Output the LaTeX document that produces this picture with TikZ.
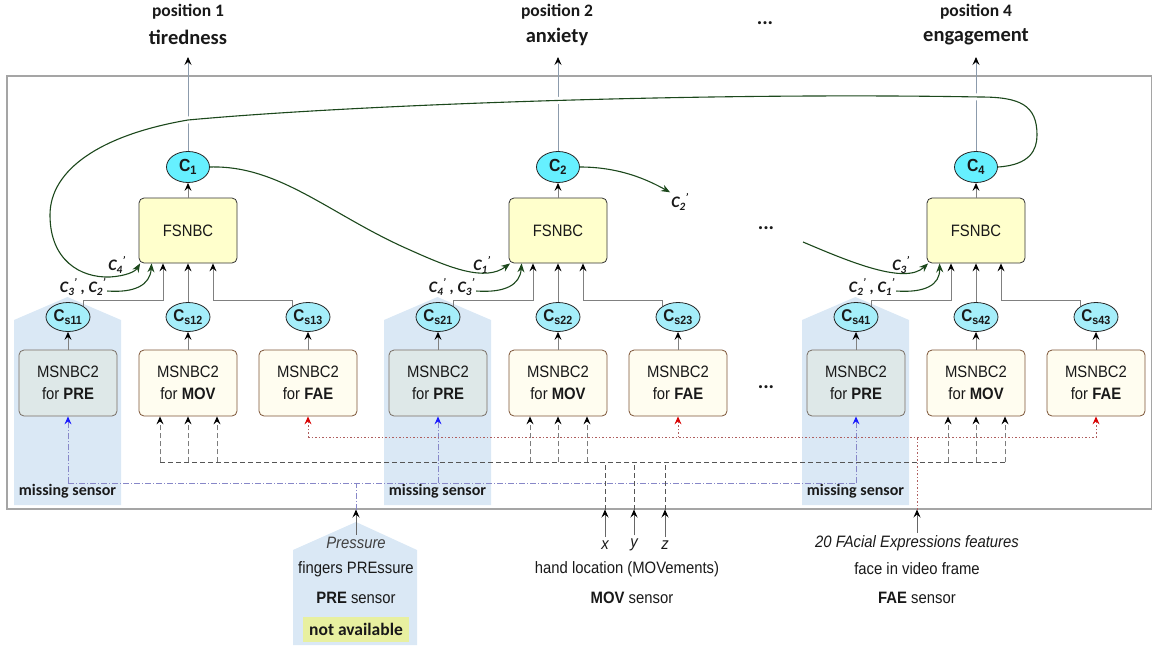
\documentclass[tikz,border=0pt]{standalone}
\usepackage{fontspec}
\setmainfont[FakeStretch=0.9]{Liberation Sans}
\newfontfamily\calfont{Carlito}
\usetikzlibrary{arrows.meta,calc,shapes.geometric}
\pgfdeclarelayer{bg}
\pgfsetlayers{bg,main}
\definecolor{frameg}{RGB}{165,165,165}
\definecolor{cyanA}{RGB}{102,240,255}
\definecolor{cyanB}{RGB}{165,238,250}
\definecolor{fsyel}{RGB}{255,255,204}
\definecolor{msyel}{RGB}{255,253,240}
\definecolor{msbord}{RGB}{125,85,55}
\definecolor{prefill}{RGB}{222,232,232}
\definecolor{preborder}{RGB}{120,110,100}
\definecolor{misblue}{RGB}{218,232,245}
\definecolor{dgreen}{RGB}{28,72,28}
\definecolor{vline}{RGB}{140,155,172}
\definecolor{movc}{RGB}{85,85,85}
\definecolor{movv}{RGB}{125,125,125}
\definecolor{prec}{RGB}{135,135,200}
\definecolor{faec}{RGB}{175,95,95}
\definecolor{naval}{RGB}{232,240,160}
\definecolor{txt}{RGB}{25,25,25}
\newcommand\myCp[1]{C\textsubscript{#1}\kern-0.5pt\textsuperscript{\textquoteright}}
\begin{document}
\begin{tikzpicture}[x=1pt,y=-1pt,
  every node/.style={font=\fontsize{16.5}{19}\selectfont, text=txt},
  cbig/.style={ellipse, draw=black!85, line width=0.8pt, fill=cyanA, minimum width=43pt, minimum height=31pt, inner sep=0pt, font=\fontsize{17.5}{16}\selectfont\bfseries},
  csmall/.style={ellipse, draw=black!85, line width=0.8pt, fill=cyanB, minimum width=44pt, minimum height=29pt, inner sep=0pt, font=\fontsize{17}{16}\selectfont\bfseries},
  fsbox/.style={rectangle, rounded corners=5pt, draw=black!80, line width=0.8pt, fill=fsyel, minimum width=98pt, minimum height=65pt},
  msbox/.style={rectangle, rounded corners=5pt, draw=msbord, line width=0.8pt, fill=msyel, minimum width=98pt, minimum height=66pt, align=center, font=\fontsize{16.5}{22}\selectfont},
  prebox/.style={msbox, fill=prefill, draw=preborder},
  misstxt/.style={font=\calfont\bfseries\fontsize{16}{18}\selectfont},
  toplab/.style={font=\calfont\bfseries\fontsize{17.5}{19}\selectfont},
  topbig/.style={font=\calfont\bfseries\fontsize{20.5}{22}\selectfont},
  glab/.style={inner sep=1pt, font=\calfont\bfseries\itshape\fontsize{16}{18}\selectfont},
  tipk/.style={-{Stealth[length=8pt,width=7pt,inset=3pt,black]}},
  garr/.style={draw=black!50, line width=0.9pt, tipk},
  varr/.style={draw=vline, line width=0.9pt, tipk},
  gcurve/.style={draw=dgreen, line width=1.1pt, -{Stealth[length=9pt,width=7pt,inset=3pt,dgreen]}},
  movd/.style={draw=movc, line width=0.9pt, dash pattern=on 5pt off 3pt},
  movvd/.style={draw=movv, line width=0.9pt, dash pattern=on 5pt off 3pt},
  pred/.style={draw=prec, line width=0.9pt, dash pattern=on 6pt off 2pt on 1pt off 2pt},
  faed/.style={draw=faec, line width=0.9pt, dash pattern=on 1.5pt off 2pt},
  sarr/.style={draw=black!60, line width=0.9pt, tipk}
]
\useasboundingbox (0,0) rectangle (1153,645);

% frame
\draw[frameg, line width=1.3pt] (7,76) rectangle (1151.5,509);

% background shapes
\begin{pgfonlayer}{bg}
\foreach \dx in {0,370,788}{
  \fill[misblue] (14+\dx,505) -- (14+\dx,320) -- (67.5+\dx,297) -- (121+\dx,320) -- (121+\dx,505) -- cycle;
}
\fill[misblue] (293,645) -- (293,550) -- (356,522) -- (417,550) -- (417,645) -- cycle;
\end{pgfonlayer}

% top labels
\node[toplab] (pos1) at (188,12) {position 1};
\node[topbig] (nm1) at (188,37) {tiredness};
\node[toplab] (pos2) at (557,12) {position 2};
\node[topbig] (nm2) at (557,37) {anxiety};
\node[toplab] (pos4) at (976,12) {position 4};
\node[topbig] (nm4) at (976,37) {engagement};
\node[topbig] (dots1) at (765,23) {...};
\node[topbig] (dots2) at (766,228) {...};
\node[topbig] (dots3) at (766,387) {...};

% blocks
\foreach \i/\dx in {1/0,2/370,4/788}{
  \node[cbig] (C\i) at (188+\dx,167) {C\textsubscript{\i}};
  \node[fsbox] (F\i) at (188+\dx,230.5) {FSNBC};
  \node[csmall] (Cs\i1) at (68+\dx,317) {C\textsubscript{s\i1}};
  \node[csmall] (Cs\i2) at (188+\dx,317) {C\textsubscript{s\i2}};
  \node[csmall] (Cs\i3) at (308+\dx,317) {C\textsubscript{s\i3}};
  \node[prebox] (P\i) at (68+\dx,383) {MSNBC2\\for \textbf{PRE}};
  \node[msbox] (M\i) at (188+\dx,383) {MSNBC2\\for \textbf{MOV}};
  \node[msbox] (A\i) at (308+\dx,383) {MSNBC2\\for \textbf{FAE}};
  \node[misstxt] (mt\i) at (67.5+\dx,491) {missing sensor};
  \coordinate (tip\i) at (188+\dx,57);
  \draw[varr] (C\i.north) -- (tip\i);
  \draw[garr] (F\i.north) -- (C\i.south);
  \draw[garr] (Cs\i1.north east) -- ++(0,-6) -| ([xshift=-25pt]F\i.south);
  \draw[garr] (Cs\i2.north) -- (F\i.south);
  \draw[garr] (Cs\i3.north west) -- ++(0,-6) -| ([xshift=25pt]F\i.south);
  \draw[garr] (P\i.north) -- (Cs\i1.south);
  \draw[garr] (M\i.north) -- (Cs\i2.south);
  \draw[garr] (A\i.north) -- (Cs\i3.south);
  \foreach \o in {-28,0,29}{
    \draw[movvd, tipk] ($(M\i.south)+(\o,46)$) -- ([xshift=\o pt]M\i.south);
  }
  \draw[faed, -{Stealth[length=8pt,width=7pt,inset=3pt,red!85!black]}] ($(A\i.south)+(0,21)$) -- (A\i.south);
  \draw[pred, -{Stealth[length=8pt,width=7pt,inset=3pt,blue!90!white]}] ($(P\i.south)+(0,67)$) -- (P\i.south);
}

% buses
\draw[movd] ($(M1.south)+(-28,46)$) -- ($(M4.south)+(29,46)$);
\draw[faed] ($(A1.south)+(0,21)$) -- ($(A4.south)+(0,21)$);
\draw[pred] ($(P1.south)+(0,67)$) -- ($(P4.south)+(0,67)$);

% bottom sensors
\node[font=\itshape\fontsize{16.5}{19}\selectfont, text=black!75] (pr1) at (356,543) {Pressure};
\node (pr2) at (356,569) {fingers PREssure};
\node (pr3) at (356,598) {\textbf{PRE} sensor};
\node[fill=naval, minimum width=106pt, minimum height=25pt, inner sep=0pt, font=\calfont\bfseries\fontsize{17.5}{19}\selectfont] (pr4) at (356,629.5) {not available};

\node[font=\itshape\fontsize{16.5}{19}\selectfont] (sx) at (605,545) {x};
\node[font=\itshape\fontsize{16.5}{19}\selectfont] (sy) at (634,545) {y};
\node[font=\itshape\fontsize{16.5}{19}\selectfont] (sz) at (665,545) {z};
\node (mv2) at (627,569) {hand location (MOVements)};
\node (mv3) at (632,598) {\textbf{MOV} sensor};

\node[font=\itshape\fontsize{16.5}{19}\selectfont] (fa1) at (917,543) {20 FAcial Expressions features};
\node (fa2) at (917,569) {face in video frame};
\node (fa3) at (917,598) {\textbf{FAE} sensor};

\coordinate (bp) at (356,509.5); \coordinate (jp) at (356,483);
\coordinate (bx) at (605,509.5); \coordinate (jx) at (605,462);
\coordinate (by) at (634,509.5); \coordinate (jy) at (634,462);
\coordinate (bz) at (665,509.5); \coordinate (jz) at (665,462);
\coordinate (bf) at (917,509.5); \coordinate (jf) at (917,437);
\draw[pred] (bp) -- (jp);
\draw[movd] (bx) -- (jx);
\draw[movd] (by) -- (jy);
\draw[movd] (bz) -- (jz);
\draw[faed] (bf) -- (jf);
\draw[sarr] ([yshift=-1pt]pr1.north) -- (bp);
\draw[sarr] (sx.north) -- (bx);
\draw[sarr] (sy.north) -- (by);
\draw[sarr] (sz.north) -- (bz);
\draw[sarr] ([yshift=-1pt]fa1.north) -- (bf);

% green labels
\node[glab] (l11) at (83,287) {\myCp{3} , \myCp{2}};
\node[glab] (l12) at (117,265) {\myCp{4}};
\node[glab] (l21) at (452,287) {\myCp{4} , \myCp{3}};
\node[glab] (l22) at (482,265) {\myCp{1}};
\node[glab] (l41) at (872,287) {\myCp{2} , \myCp{1}};
\node[glab] (l42) at (901,265) {\myCp{3}};
\node[glab] (c2p) at (680,202) {\myCp{2}};
\coordinate (in4) at (803,242);

% gaps in vertical lines
\draw[white, line width=7pt] (1037,135) .. controls (1037,105) and (1020,97) .. (980,97) .. controls (700,92) and (350,105) .. (188,120) .. controls (100,135) and (50,170) .. (50,215);

% green curves
\draw[gcurve] (C4.east) .. controls (1030,165) and (1037,150) .. (1037,135) .. controls (1037,105) and (1020,97) .. (980,97) .. controls (700,92) and (350,105) .. (188,120) .. controls (100,135) and (50,170) .. (50,215) .. controls (50,260) and (80,278) .. (110,277) .. controls (125,276) and (135,272) .. ([xshift=1.5pt]F1.south west);
\draw[gcurve] ([yshift=-4pt]l11.east) .. controls (135,293) and (150,285) .. ([xshift=13pt]F1.south west);
\draw[gcurve] (C1.east) .. controls (280,165) and (330,215) .. (410,250) .. controls (450,268) and (485,282) .. ([xshift=1.5pt]F2.south west);
\draw[gcurve] ([yshift=-4pt]l21.east) .. controls (505,293) and (520,285) .. ([xshift=13pt]F2.south west);
\draw[gcurve] (C2.east) .. controls (620,167) and (648,180) .. (c2p.north west);
\draw[gcurve] (in4) .. controls (850,262) and (905,285) .. ([xshift=1.5pt]F4.south west);
\draw[gcurve] ([yshift=-4pt]l41.east) .. controls (925,293) and (940,285) .. ([xshift=13pt]F4.south west);
\end{tikzpicture}
\end{document}
